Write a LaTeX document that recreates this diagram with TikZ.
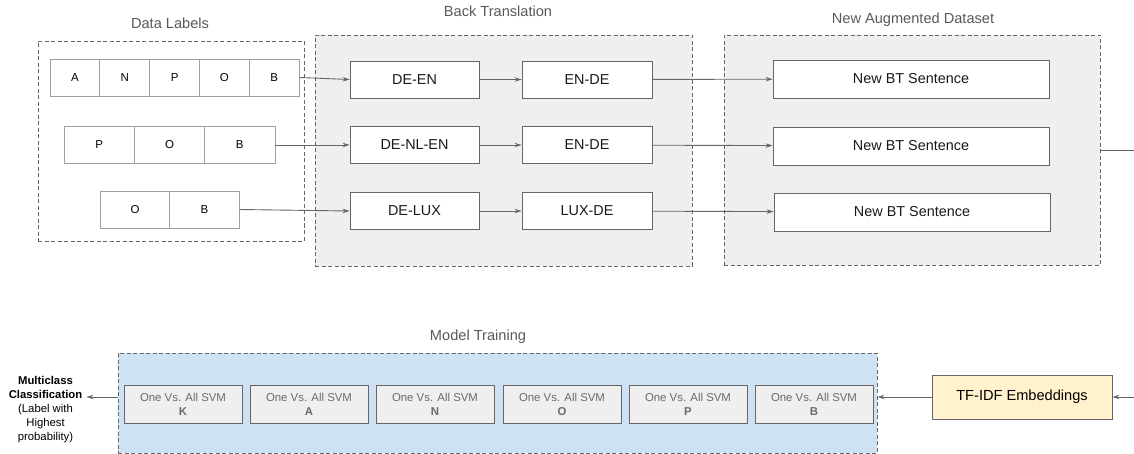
\documentclass[tikz,border=0pt]{standalone}
\usepackage{fontspec}
\setmainfont{Liberation Sans}
\usetikzlibrary{arrows.meta}

\definecolor{edge}{HTML}{666666}
\definecolor{celledge}{HTML}{A0A0A0}
\definecolor{panel}{HTML}{EFEFEF}
\definecolor{bluepanel}{HTML}{CFE2F3}
\definecolor{yellowbox}{HTML}{FFF2CC}
\definecolor{titlegray}{HTML}{595959}
\definecolor{svmgray}{HTML}{6B6B6B}

\tikzset{
  group/.style={draw=edge, line width=0.9pt, dash pattern=on 4pt off 2.5pt, inner sep=0pt},
  grouptitle/.style={text=titlegray, font=\fontsize{14.6}{17}\selectfont},
  cell/.style={draw=celledge, line width=0.9pt, fill=white, minimum height=37pt, inner sep=0pt,
               font=\fontsize{11.5}{14}\selectfont},
  stepbox/.style={draw=edge, line width=0.9pt, fill=white, minimum height=37pt, inner sep=0pt,
                  text=black!90, font=\fontsize{14.4}{18}\selectfont},
  svmbox/.style={draw=edge, line width=0.9pt, fill=panel, minimum width=118pt, minimum height=38pt,
                 inner sep=0pt, align=center, text=svmgray, font=\fontsize{11.4}{14}\selectfont},
  conn/.style={draw=edge, line width=0.9pt},
  arr/.style={conn, -{Stealth[length=7pt,width=4.5pt]}}
}

\begin{document}
\begin{tikzpicture}[x=1pt,y=-1pt]
\useasboundingbox (0,0) rectangle (1134,454);

% ---- panels ----
\node[group, minimum width=266pt, minimum height=200pt] (dl) at (171,141) {};
\node[group, fill=panel, minimum width=377pt, minimum height=231pt] (bt) at (503.5,150.5) {};
\node[group, fill=panel, minimum width=376pt, minimum height=230pt] (nad) at (912,150) {};
\node[group, fill=bluepanel, minimum width=759pt, minimum height=100pt] (mt) at (497.5,403) {};

\node[grouptitle] (dlt) at (170,23) {Data Labels};
\node[grouptitle] (btt) at (498,11) {Back Translation};
\node[grouptitle] (nadt) at (913,20) {New Augmented Dataset};
\node[grouptitle] (mtt) at (478,337) {Model Training};

% ---- data label rows ----
\node[cell, minimum width=49.8pt] (r1a) at (75,77.5) {A};
\node[cell, minimum width=49.8pt] (r1b) at (124.8,77.5) {N};
\node[cell, minimum width=49.8pt] (r1c) at (174.6,77.5) {P};
\node[cell, minimum width=49.8pt] (r1d) at (224.4,77.5) {O};
\node[cell, minimum width=49.8pt] (r1e) at (274.2,77.5) {B};

\node[cell, minimum width=70.3pt] (r2a) at (99.2,145) {P};
\node[cell, minimum width=70.3pt] (r2b) at (169.5,145) {O};
\node[cell, minimum width=70.3pt] (r2c) at (239.8,145) {B};

\node[cell, minimum width=69.5pt] (r3a) at (135,209.5) {O};
\node[cell, minimum width=69.5pt] (r3b) at (204.5,209.5) {B};

% ---- back translation steps ----
\node[stepbox, minimum width=129pt] (de1) at (414.5,79.5) {DE-EN};
\node[stepbox, minimum width=130pt] (en1) at (587,79.5) {EN-DE};
\node[stepbox, minimum width=129pt] (de2) at (414.5,145) {DE-NL-EN};
\node[stepbox, minimum width=130pt] (en2) at (587,145) {EN-DE};
\node[stepbox, minimum width=129pt] (de3) at (414.5,211) {DE-LUX};
\node[stepbox, minimum width=130pt] (en3) at (587,211) {LUX-DE};

% ---- new sentences ----
\node[stepbox, minimum width=276pt, minimum height=38pt] (s1) at (911,79) {New BT Sentence};
\node[stepbox, minimum width=276pt, minimum height=38pt] (s2) at (911,146) {New BT Sentence};
\node[stepbox, minimum width=276pt, minimum height=38pt] (s3) at (912,212) {New BT Sentence};

% ---- model training ----
\node[svmbox] (k) at (183,404) {One Vs. All SVM\\\textbf{K}};
\node[svmbox] (a) at (309,404) {One Vs. All SVM\\\textbf{A}};
\node[svmbox] (n) at (435,404) {One Vs. All SVM\\\textbf{N}};
\node[svmbox] (o) at (562,404) {One Vs. All SVM\\\textbf{O}};
\node[svmbox] (p) at (688,404) {One Vs. All SVM\\\textbf{P}};
\node[svmbox] (b) at (814,404) {One Vs. All SVM\\\textbf{B}};

\node[draw=edge, line width=0.9pt, fill=yellowbox, minimum width=180pt, minimum height=44pt,
      inner sep=0pt, font=\fontsize{14.6}{18}\selectfont] (tf) at (1022,397) {TF-IDF Embeddings};

\node[align=center, inner sep=1pt, font=\fontsize{11.3}{14}\selectfont] (mc) at (45.5,410)
  {\textbf{Multiclass}\\\textbf{Classification}\\(Label with\\Highest\\probability)};

% ---- connectors ----
\draw[arr] (r1e.east) -- (de1.west);
\draw[arr] (r2c.east) -- (de2.west);
\draw[arr] (r3b.east) -- (de3.west);
\draw[arr] (de1) -- (en1);
\draw[arr] (de2) -- (en2);
\draw[arr] (de3) -- (en3);
\draw[arr] (en1) -- (s1);
\draw[arr] (en2) -- (s2);
\draw[arr] (en3) -- (s3);

\coordinate (outR) at (1134,150);
\coordinate (inR) at (1134,397);
\draw[conn] (nad.east) -- (outR);
\draw[arr] (inR) -- (tf.east);
\draw[arr] (tf.west) -- (tf.west -| mt.east);
\draw[arr] (mt.west |- tf.west) -- ([xshift=3pt]mc.east |- tf.west);
\end{tikzpicture}
\end{document}
